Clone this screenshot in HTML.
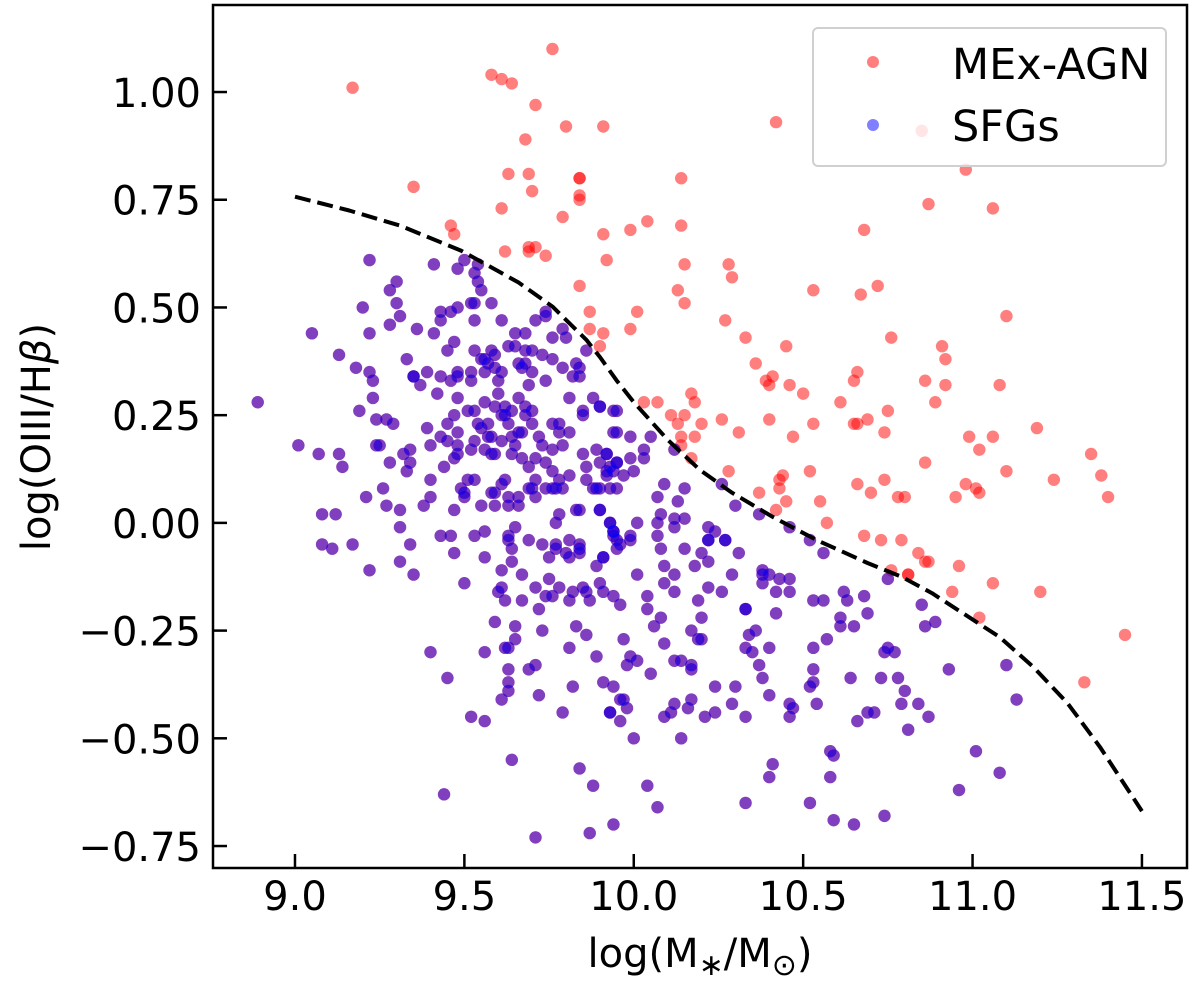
<!DOCTYPE html>
<html><head><meta charset="utf-8"><title>MEx diagram</title>
<style>
html,body{margin:0;padding:0;background:#fff;}
svg{display:block;font-family:"DejaVu Sans","Liberation Sans",sans-serif;}
</style></head>
<body>
<svg id="chart" width="1200" height="984" viewBox="0 0 1200 984" xmlns="http://www.w3.org/2000/svg">
<rect x="0" y="0" width="1200" height="984" fill="#fff"/>
<g id="points"></g>
<g id="curve"></g>
<g id="axes"></g>
<g id="legend">
  <rect x="813" y="28" width="353" height="138" rx="5" fill="rgba(255,255,255,0.8)" stroke="#d0d0d0" stroke-width="2"/>
  <circle cx="873" cy="62" r="6" fill="rgba(255,0,0,0.5)"/>
  <text x="952" y="79" font-size="43" fill="#000">MEx-AGN</text>
  <circle cx="873" cy="125" r="6" fill="rgba(0,0,255,0.5)"/>
  <text x="952" y="141" font-size="43" fill="#000">SFGs</text>
</g>
<text x="700" y="967" font-size="40" text-anchor="middle">log(M<tspan font-size="30" dy="8">∗</tspan><tspan dy="-8">/M</tspan><tspan font-size="30" dy="8">⊙</tspan><tspan dy="-8">)</tspan></text>
<text transform="translate(50,437) rotate(-90)" font-size="40" text-anchor="middle">log(OIII/H<tspan font-style="italic">β</tspan>)</text>
</svg>
<script>
const xTicks = [9.0, 9.5, 10.0, 10.5, 11.0, 11.5];
const xTickLabels = ["9.0", "9.5", "10.0", "10.5", "11.0", "11.5"];
const yTicks = [1.0, 0.75, 0.5, 0.25, 0.0, -0.25, -0.5, -0.75];
const yTickLabels = ["1.00", "0.75", "0.50", "0.25", "0.00", "\u22120.25", "\u22120.50", "\u22120.75"];
const demarcMass = [9.00,9.16,9.31,9.49,9.66,9.76,9.86,9.90,9.95,10.00,10.10,10.195,10.29,10.41,10.54,10.69,10.79,10.88,10.98,11.08,11.18,11.28,11.376,11.465,11.50];
const demarcRatio = [0.757,0.725,0.690,0.632,0.558,0.502,0.425,0.385,0.33,0.280,0.193,0.123,0.070,0.014,-0.040,-0.093,-0.125,-0.163,-0.214,-0.265,-0.335,-0.418,-0.520,-0.627,-0.669];
const agnPoints = [
[9.17,1.01],[9.76,1.10],[9.58,1.04],[9.61,1.03],[9.64,1.02],[9.71,0.97],[9.80,0.92],[9.91,0.92],[9.68,0.89],
[9.63,0.81],[9.69,0.81],[9.84,0.80],[9.84,0.80],[10.14,0.80],[9.70,0.77],[9.84,0.76],[9.84,0.75],[9.35,0.78],
[9.61,0.73],[9.79,0.71],[10.04,0.70],[9.99,0.68],[9.91,0.67],[10.14,0.69],[9.46,0.69],[9.47,0.67],[9.62,0.63],
[9.69,0.64],[9.71,0.64],[9.74,0.62],[9.92,0.61],[10.15,0.60],[10.28,0.60],
[10.42,0.93],[10.85,0.91],[10.98,0.82],[10.87,0.74],[11.06,0.73],[10.68,0.68],
[9.69,0.63],[9.84,0.55],[9.87,0.49],[9.87,0.45],[9.91,0.44],[9.90,0.41],
[10.29,0.57],[10.13,0.54],[10.15,0.51],[10.01,0.49],[9.99,0.45],[10.27,0.47],[10.53,0.54],[10.67,0.53],[10.72,0.55],
[10.76,0.43],[10.91,0.41],[10.92,0.38],[10.86,0.33],[10.92,0.32],[10.89,0.28],[11.08,0.32],[10.33,0.43],[10.45,0.41],
[10.36,0.37],[10.39,0.33],[10.41,0.34],[10.40,0.32],[10.46,0.32],[10.50,0.30],[10.66,0.35],[10.65,0.33],[10.61,0.28],
[10.75,0.26],[10.65,0.23],[10.69,0.24],[10.66,0.23],[10.74,0.21],[10.53,0.23],[10.47,0.20],[10.40,0.24],[10.26,0.24],
[10.31,0.21],[10.17,0.30],[10.18,0.28],[10.15,0.25],[10.20,0.23],[10.13,0.23],[10.11,0.25],[10.14,0.20],[10.18,0.20],
[10.14,0.18],[10.17,0.15],[10.03,0.28],[10.07,0.28],[10.28,0.12],[10.37,0.07],[10.43,0.10],[10.44,0.11],[10.43,0.08],
[10.45,0.05],[10.42,0.03],[10.55,0.05],[10.52,0.12],[10.57,0.00],[10.66,0.09],[10.70,0.07],[10.74,0.10],[10.78,0.06],
[10.80,0.06],[10.86,0.14],[10.95,0.06],[10.98,0.09],[11.01,0.08],[11.02,0.07],[10.99,0.20],[11.02,0.17],[11.06,0.20],
[10.68,-0.03],[10.73,-0.04],[10.79,-0.04],[10.84,-0.07],[10.86,-0.09],[10.87,-0.09],[10.96,-0.10],[10.76,-0.11],
[10.81,-0.12],[10.81,-0.12],[10.94,-0.16],[11.06,-0.14],[11.02,-0.22],[11.20,-0.16],[11.45,-0.26],[11.33,-0.37],
[11.10,0.48],[11.19,0.22],[11.35,0.16],[11.24,0.10],[11.38,0.11],[11.40,0.06],[11.10,0.12]
];
const sfgPoints = [
[9.22,0.61],[9.41,0.60],[9.48,0.59],[9.50,0.61],[9.54,0.60],[9.53,0.58],[9.54,0.56],[9.55,0.54],[9.30,0.56],[9.28,0.54],
[9.30,0.51],[9.20,0.50],[9.31,0.48],[9.28,0.46],[9.22,0.44],[9.05,0.44],[9.36,0.45],[9.41,0.44],[9.43,0.49],[9.46,0.49],
[9.48,0.50],[9.43,0.47],[9.52,0.51],[9.53,0.51],[9.53,0.47],[9.58,0.51],[9.61,0.47],[9.71,0.47],[9.74,0.49],[9.74,0.48],
[9.65,0.44],[9.68,0.44],[9.76,0.43],[9.79,0.45],[9.80,0.43],[9.86,0.40],[9.13,0.39],[9.18,0.36],[9.22,0.35],[9.23,0.33],
[9.23,0.29],[9.19,0.26],[8.89,0.28],[9.24,0.24],[9.27,0.24],[9.29,0.23],[9.01,0.18],[9.07,0.16],[9.13,0.16],[9.14,0.13],
[9.24,0.18],[9.25,0.18],[9.28,0.14],[9.32,0.16],[9.34,0.17],[9.34,0.14],[9.33,0.12],[9.33,0.38],[9.35,0.34],[9.35,0.34],
[9.39,0.35],[9.37,0.32],[9.43,0.34],[9.45,0.40],[9.47,0.42],[9.46,0.33],[9.48,0.35],[9.48,0.34],[9.52,0.35],[9.52,0.33],
[9.48,0.29],[9.42,0.30],[9.53,0.40],[9.55,0.38],[9.58,0.40],[9.59,0.39],[9.56,0.38],[9.57,0.37],[9.59,0.36],[9.61,0.35],
[9.60,0.33],[9.56,0.35],[9.63,0.41],[9.65,0.41],[9.68,0.40],[9.70,0.40],[9.73,0.39],[9.76,0.38],[9.66,0.37],[9.68,0.37],
[9.67,0.36],[9.70,0.35],[9.69,0.32],[9.74,0.33],[9.79,0.36],[9.83,0.37],[9.84,0.36],[9.82,0.34],[9.84,0.34],[9.81,0.29],
[9.88,0.29],[9.90,0.27],[9.85,0.26],[9.85,0.25],[9.94,0.26],[9.94,0.21],[9.60,0.30],[9.56,0.28],[9.59,0.27],[9.62,0.27],
[9.64,0.26],[9.66,0.29],[9.68,0.27],[9.68,0.25],[9.70,0.26],[9.70,0.23],[9.62,0.25],[9.61,0.25],[9.63,0.23],[9.66,0.21],
[9.53,0.26],[9.51,0.26],[9.47,0.25],[9.45,0.23],[9.48,0.21],[9.43,0.20],[9.45,0.19],[9.48,0.18],[9.48,0.16],[9.47,0.15],
[9.40,0.18],[9.39,0.22],[9.44,0.13],[9.40,0.10],[9.54,0.23],[9.55,0.22],[9.57,0.23],[9.58,0.20],[9.57,0.20],[9.53,0.19],
[9.52,0.17],[9.56,0.17],[9.58,0.16],[9.59,0.16],[9.61,0.19],[9.64,0.20],[9.65,0.18],[9.67,0.21],[9.64,0.16],[9.67,0.15],
[9.71,0.15],[9.72,0.20],[9.73,0.18],[9.76,0.17],[9.76,0.23],[9.78,0.23],[9.81,0.21],[9.78,0.21],[9.79,0.18],[9.74,0.14],
[9.69,0.13],[9.76,0.12],[9.81,0.11],[9.78,0.10],[9.76,0.08],[9.85,0.16],[9.89,0.17],[9.92,0.16],[9.90,0.14],[9.86,0.13],
[9.92,0.12],[9.86,0.10],[9.88,0.08],[9.89,0.08],[9.93,0.08],[9.95,0.14],[9.94,0.12],[9.95,0.08],[9.51,0.10],[9.53,0.10],
[9.50,0.07],[9.49,0.08],[9.50,0.06],[9.58,0.07],[9.59,0.07],[9.61,0.09],[9.62,0.10],[9.63,0.06],[9.66,0.06],[9.69,0.08],
[9.70,0.08],[9.71,0.10],[9.71,0.06],[9.74,0.08],[9.77,0.08],[9.79,0.08],[9.55,0.04],[9.59,0.04],[9.63,0.04],[9.66,0.04],
[9.47,0.03],[9.38,0.04],[9.40,0.06],[9.31,0.03],[9.27,0.04],[9.26,0.08],[9.21,0.06],[9.08,0.02],[9.12,0.02],[9.31,-0.01],
[9.43,-0.03],[9.46,-0.03],[9.53,-0.03],[9.56,-0.02],[9.65,-0.01],[9.63,-0.03],[9.63,-0.04],[9.69,-0.04],[9.73,-0.05],[9.81,-0.04],
[9.77,0.00],[9.78,0.02],[9.83,0.03],[9.84,0.03],[9.90,0.03],[9.93,0.00],[9.94,-0.02],[9.94,-0.03],[9.95,-0.04],[9.84,-0.05],
[9.77,-0.05],[9.08,-0.05],[9.11,-0.06],[9.17,-0.05],[9.34,-0.05],
[9.22,-0.11],[9.31,-0.09],[9.35,-0.12],[9.47,-0.07],[9.56,-0.08],[9.50,-0.14],[9.61,-0.11],[9.64,-0.09],[9.67,-0.12],[9.64,-0.06],
[9.61,-0.15],[9.60,-0.16],[9.62,-0.18],[9.67,-0.18],[9.71,-0.15],[9.72,-0.20],[9.75,-0.13],[9.74,-0.17],[9.76,-0.17],[9.78,-0.15],
[9.75,-0.08],[9.81,-0.08],[9.84,-0.07],[9.80,-0.07],[9.84,-0.06],[9.77,-0.06],[9.89,-0.10],[9.91,-0.08],[9.82,-0.16],[9.81,-0.18],
[9.85,-0.15],[9.86,-0.16],[9.87,-0.18],[9.90,-0.14],[9.91,-0.16],[9.94,-0.17],[9.96,-0.19],[9.59,-0.23],[9.65,-0.24],[9.73,-0.25],
[9.65,-0.27],[9.62,-0.29],[9.63,-0.29],[9.56,-0.30],[9.40,-0.30],[9.45,-0.36],[9.63,-0.34],[9.69,-0.34],[9.71,-0.33],[9.63,-0.37],
[9.63,-0.39],[9.61,-0.41],[9.72,-0.40],[9.83,-0.24],[9.86,-0.26],[9.81,-0.29],[9.89,-0.31],[9.82,-0.38],[9.91,-0.37],[9.94,-0.38],
[9.96,-0.41],[9.79,-0.44],[9.93,-0.44],[9.96,-0.46],[9.52,-0.45],[9.56,-0.46],[9.64,-0.55],[9.84,-0.57],[9.88,-0.61],[9.44,-0.63],
[9.94,-0.70],[9.87,-0.72],[9.71,-0.73],
[9.96,-0.05],[9.99,-0.04],[9.95,-0.06],[9.91,-0.08],[10.08,-0.06],[10.15,-0.06],[10.22,-0.04],[10.27,-0.04],[10.20,-0.07],[10.22,-0.09],
[10.18,-0.10],[10.09,-0.10],[10.12,-0.12],[10.01,-0.12],[10.09,-0.14],[10.31,-0.07],[10.29,-0.12],[10.26,-0.16],[10.22,-0.15],[10.12,-0.16],
[10.04,-0.17],[10.04,-0.20],[10.19,-0.18],[10.20,-0.22],[10.08,-0.22],[10.06,-0.24],[10.17,-0.25],[10.19,-0.27],[10.20,-0.27],[10.09,-0.28],
[9.97,-0.27],[9.99,-0.31],[10.01,-0.32],[9.98,-0.33],[10.12,-0.32],[10.14,-0.32],[10.17,-0.33],[10.17,-0.34],[10.05,-0.35],[9.97,-0.41],
[9.98,-0.43],[9.93,-0.44],[10.00,-0.50],[10.09,-0.45],[10.11,-0.44],[10.12,-0.42],[10.17,-0.41],[10.16,-0.43],[10.21,-0.45],
[10.24,-0.44],[10.14,-0.50],[10.24,-0.38],[10.30,-0.38],[10.29,-0.42],[10.33,-0.45],[10.38,-0.11],[10.38,-0.12],[10.40,-0.12],[10.43,-0.13],
[10.46,-0.13],[10.38,-0.14],[10.42,-0.16],[10.46,-0.16],[10.42,-0.21],[10.33,-0.20],[10.33,-0.20],[10.36,-0.25],[10.34,-0.26],[10.40,-0.29],
[10.33,-0.29],[10.35,-0.30],[10.37,-0.33],[10.38,-0.36],[10.40,-0.40],[10.46,-0.42],[10.47,-0.43],[10.46,-0.45],[10.52,-0.04],[10.56,-0.07],
[10.53,-0.18],[10.56,-0.18],[10.62,-0.16],[10.63,-0.18],[10.68,-0.17],[10.69,-0.21],[10.61,-0.22],[10.61,-0.24],[10.65,-0.24],[10.57,-0.27],
[10.53,-0.29],[10.53,-0.34],[10.53,-0.37],[10.52,-0.38],[10.54,-0.42],[10.64,-0.36],[10.69,-0.44],[10.71,-0.44],[10.66,-0.46],[10.75,-0.29],
[10.74,-0.30],[10.77,-0.30],[10.73,-0.36],[10.78,-0.36],[10.80,-0.39],[10.79,-0.42],[10.84,-0.42],[10.87,-0.45],[10.81,-0.48],[10.75,-0.13],
[10.85,-0.19],[10.86,-0.24],[10.89,-0.23],[10.93,-0.34],[11.01,-0.53],[11.08,-0.58],[10.96,-0.62],[10.58,-0.53],[10.59,-0.54],[10.58,-0.59],
[10.41,-0.56],[10.40,-0.59],[10.04,-0.61],[10.07,-0.66],[10.33,-0.65],[10.52,-0.65],[10.59,-0.69],[10.65,-0.70],[10.74,-0.68],[11.10,-0.33],
[11.13,-0.41],
[9.90,0.27],[9.95,0.26],[9.95,0.21],[9.99,0.20],[10.05,0.20],[9.92,0.16],[9.95,0.14],[9.99,0.15],[10.03,0.17],[10.03,0.15],
[10.00,0.12],[9.97,0.11],[9.93,0.13],[9.92,0.11],[9.90,0.08],[9.90,0.03],[9.93,0.00],[9.94,-0.02],[10.01,0.00],[9.99,-0.03],
[10.09,0.09],[10.07,0.06],[10.15,0.08],[10.13,0.05],[10.08,0.02],[10.12,0.01],[10.15,0.01],[10.07,0.00],[10.12,-0.01],[10.07,-0.03],
[10.22,-0.01],[10.24,-0.02],[10.22,-0.04],[10.27,-0.04],[10.12,0.17],[10.26,0.09],[10.30,0.04],[10.37,0.02],[10.46,-0.01]
];

const SVGNS = "http://www.w3.org/2000/svg";
const L = 213, R = 1187, T = 5, B = 868;
const xMin = 8.758, xMax = 11.633, yMin = -0.801, yMax = 1.202;
const DOT_R = 6.2;
function sx(v){ return L + (v - xMin) / (xMax - xMin) * (R - L); }
function sy(v){ return B - (v - yMin) / (yMax - yMin) * (B - T); }
function mk(tag, attrs){ const e = document.createElementNS(SVGNS, tag); for (const k in attrs) e.setAttribute(k, attrs[k]); return e; }

const pts = document.getElementById('points');
agnPoints.forEach(function(p){
  const c = mk('circle', {cx: sx(p[0]), cy: sy(p[1]), r: DOT_R, fill: 'rgba(255,0,0,0.5)'});
  
  
  pts.appendChild(c);
});
sfgPoints.forEach(function(p){
  const c = mk('circle', {cx: sx(p[0]), cy: sy(p[1]), r: DOT_R, fill: 'rgba(255,0,0,0.5)'});
  
  
  pts.appendChild(c);
});
sfgPoints.forEach(function(p){
  const c = mk('circle', {cx: sx(p[0]), cy: sy(p[1]), r: DOT_R, fill: 'rgba(0,0,255,0.5)'});
  
  
  pts.appendChild(c);
});

const cg = document.getElementById('curve');
let d = '';
demarcMass.forEach(function(m, i){ d += (i ? 'L' : 'M') + sx(m).toFixed(1) + ' ' + sy(demarcRatio[i]).toFixed(1); });
const path = mk('path', {d: d, fill: 'none', stroke: '#000', 'stroke-width': 4, 'stroke-dasharray': '16,7', 'stroke-linejoin': 'round'});


cg.appendChild(path);

const ax = document.getElementById('axes');
const frame = mk('rect', {x: L, y: T, width: R - L, height: B - T, fill: 'none', stroke: '#000', 'stroke-width': 2.5});


ax.appendChild(frame);
xTicks.forEach(function(v, i){
  const x = sx(v);
  const t = mk('line', {x1: x, x2: x, y1: B, y2: B - 14, stroke: '#000', 'stroke-width': 2.5});
  
  
  ax.appendChild(t);
  const lb = mk('text', {x: x, y: B + 42, 'font-size': 40, 'text-anchor': 'middle'});
  lb.textContent = xTickLabels[i];
  
  
  ax.appendChild(lb);
});
yTicks.forEach(function(v, i){
  const y = sy(v);
  const t = mk('line', {x1: L, x2: L + 14, y1: y, y2: y, stroke: '#000', 'stroke-width': 2.5});
  
  
  ax.appendChild(t);
  const lb = mk('text', {x: 201, y: y + 15, 'font-size': 40, 'text-anchor': 'end'});
  lb.textContent = yTickLabels[i];
  
  
  ax.appendChild(lb);
});
</script>
</body></html>
